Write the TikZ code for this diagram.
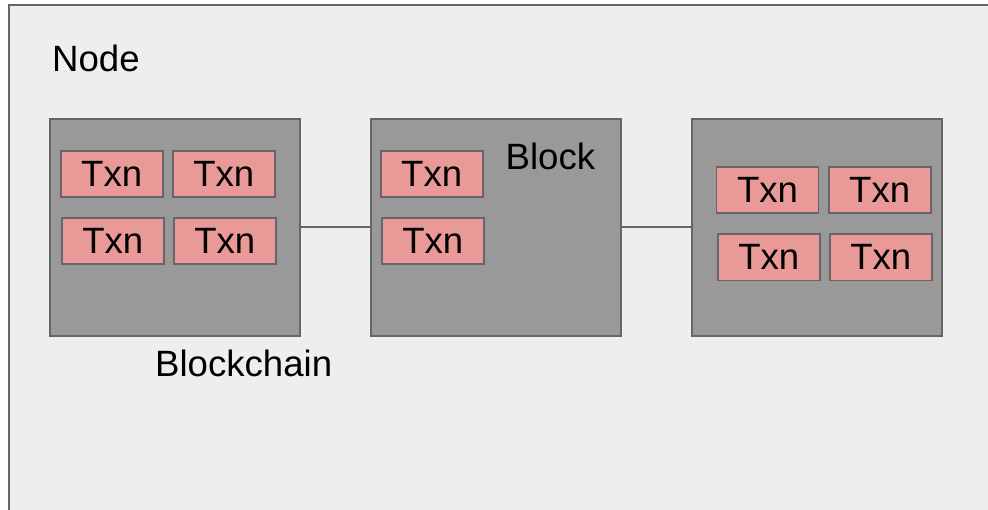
\documentclass[tikz,border=0pt]{standalone}
\usepackage{fontspec}
\setmainfont{Liberation Sans}
\definecolor{pagebg}{HTML}{EEEEEE}
\definecolor{edge}{HTML}{666666}
\definecolor{blockfill}{HTML}{999999}
\definecolor{txnfill}{HTML}{EA9999}
\begin{document}
\begin{tikzpicture}[x=1pt,y=-1pt,
  lbl/.style={font=\fontsize{36.6}{40}\selectfont, inner sep=0pt, anchor=base west},
  blockbox/.style={draw=edge, fill=blockfill, line width=1.8pt, minimum width=250pt, minimum height=217pt, inner sep=0pt},
  txn/.style={draw=edge, fill=txnfill, line width=1.8pt, minimum width=102pt, minimum height=46.6pt, inner sep=0pt, font=\fontsize{36.6}{40}\selectfont},
  link/.style={draw=edge, line width=2pt}]
  \useasboundingbox (0,0) rectangle (988,510);
  \clip (0,0) rectangle (988,510);
  % outer node area
  \draw[draw=edge, fill=pagebg, line width=1.8pt] (9,5) rectangle (1000,520);
  \node[lbl] (nodelbl) at (52,72) {Node};

  % three blocks of the chain
  \node[blockbox] (b1) at (175,227.5) {};
  \node[blockbox] (b2) at (496,227.5) {};
  \node[blockbox] (b3) at (817,227.5) {};
  \draw[link] (b1.east) -- (b2.west);
  \draw[link] (b2.east) -- (b3.west);

  % transactions in the first block
  \node[txn] (t11) at (111.7,174) {Txn};
  \node[txn] (t12) at (223.8,174) {Txn};
  \node[txn] (t13) at (112.8,241) {Txn};
  \node[txn] (t14) at (224.8,241) {Txn};

  % transactions in the middle block
  \node[txn] (t21) at (431.7,174) {Txn};
  \node[txn] (t22) at (432.8,241) {Txn};
  \node[lbl] (blocklbl) at (505.5,170) {Block};

  % transactions in the last block
  \node[txn] (t31) at (767.5,190) {Txn};
  \node[txn] (t32) at (879.7,190) {Txn};
  \node[txn] (t33) at (768.8,257.3) {Txn};
  \node[txn] (t34) at (880.8,257.3) {Txn};

  \node[lbl] (chainlbl) at (155,376.7) {Blockchain};
\end{tikzpicture}
\end{document}
